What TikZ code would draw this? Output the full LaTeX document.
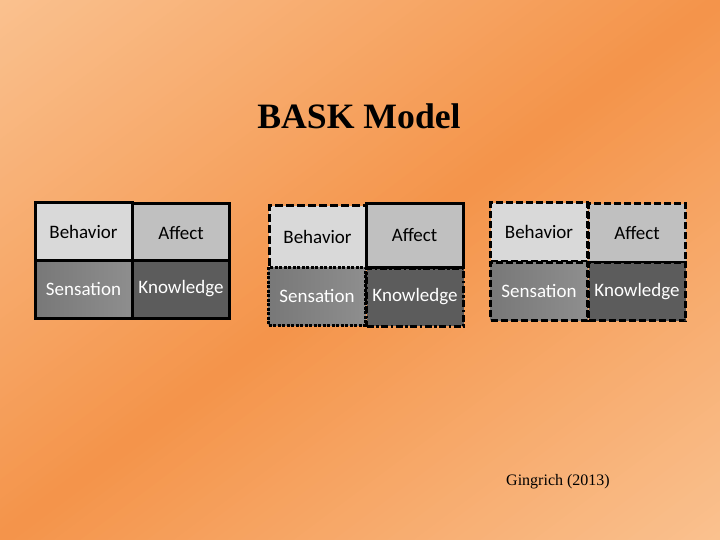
\documentclass[tikz,border=0pt]{standalone}
\usepackage{fontspec}
\setmainfont{Liberation Serif}
\newfontfamily\calfont{Carlito}
\definecolor{bglight}{RGB}{250,193,143}
\definecolor{bgdark}{RGB}{244,148,74}
\definecolor{cbeh}{RGB}{217,217,217}
\definecolor{caff}{RGB}{192,192,192}
\definecolor{csenl}{RGB}{120,120,120}
\definecolor{csenr}{RGB}{142,142,142}
\definecolor{ckno}{RGB}{92,92,92}
\tikzset{
  cell/.style={draw=black, line width=3pt, minimum width=97pt, minimum height=58pt, inner sep=0pt, font=\calfont\fontsize{19}{21}\selectfont, anchor=center},
  lightcell/.style={cell, text=black},
  darkcell/.style={cell, text=white},
  sencell/.style={darkcell, left color=csenl, right color=csenr},
  longdash/.style={dash pattern=on 8pt off 3pt},
  shortdash/.style={dash pattern=on 7pt off 3pt},
  sqdot/.style={dash pattern=on 3pt off 1.5pt},
  dashdot/.style={dash pattern=on 7pt off 2.5pt on 2.5pt off 2.5pt},
}
\begin{document}
\begin{tikzpicture}[x=1pt,y=-1pt]
\useasboundingbox (0,0) rectangle (720,540);
\begin{scope}
\clip (0,0) rectangle (720,540);
\foreach \i in {0,...,107} {
  \pgfmathsetmacro\ta{\i*8}
  \pgfmathsetmacro\tb{\i*8+9}
  \pgfmathsetmacro\p{abs(\i*8+4-432)/432*100}
  \fill[bglight!\p!bgdark]
    ({0.6*\ta-0.8*700},{0.8*\ta+0.6*700}) --
    ({0.6*\ta+0.8*700},{0.8*\ta-0.6*700}) --
    ({0.6*\tb+0.8*700},{0.8*\tb-0.6*700}) --
    ({0.6*\tb-0.8*700},{0.8*\tb+0.6*700}) -- cycle;
}
\end{scope}
\node[font=\bfseries\fontsize{35.7}{40}\selectfont] (title) at (359,116) {BASK Model};
% group 1
\node[lightcell, fill=cbeh] (b1) at (83.5,232) {Behavior};
\node[lightcell, fill=caff] (a1) at (181,233) {Affect};
\node[sencell] (s1) at (83.5,289) {Sensation};
\node[darkcell, fill=ckno] (k1) at (181,289) {Knowledge};
% group 2
\node[lightcell, fill=cbeh, longdash, minimum height=62pt] (b2) at (317.5,237) {Behavior};
\node[sencell, sqdot] (s2) at (317,296) {Sensation};
\node[darkcell, fill=ckno, dashdot] (k2) at (415,297) {Knowledge};
\node[lightcell, fill=caff, minimum height=63pt] (a2) at (414.5,235.5) {Affect};
% group 3
\node[lightcell, fill=cbeh, shortdash] (b3) at (539,232) {Behavior};
\node[lightcell, fill=caff, shortdash] (a3) at (637,233) {Affect};
\node[sencell, shortdash] (s3) at (539,291) {Sensation};
\node[darkcell, fill=ckno, shortdash] (k3) at (637,291.5) {Knowledge};
\node[font=\fontsize{16}{18}\selectfont] (cite) at (558,482) {Gingrich (2013)};
\end{tikzpicture}
\end{document}
